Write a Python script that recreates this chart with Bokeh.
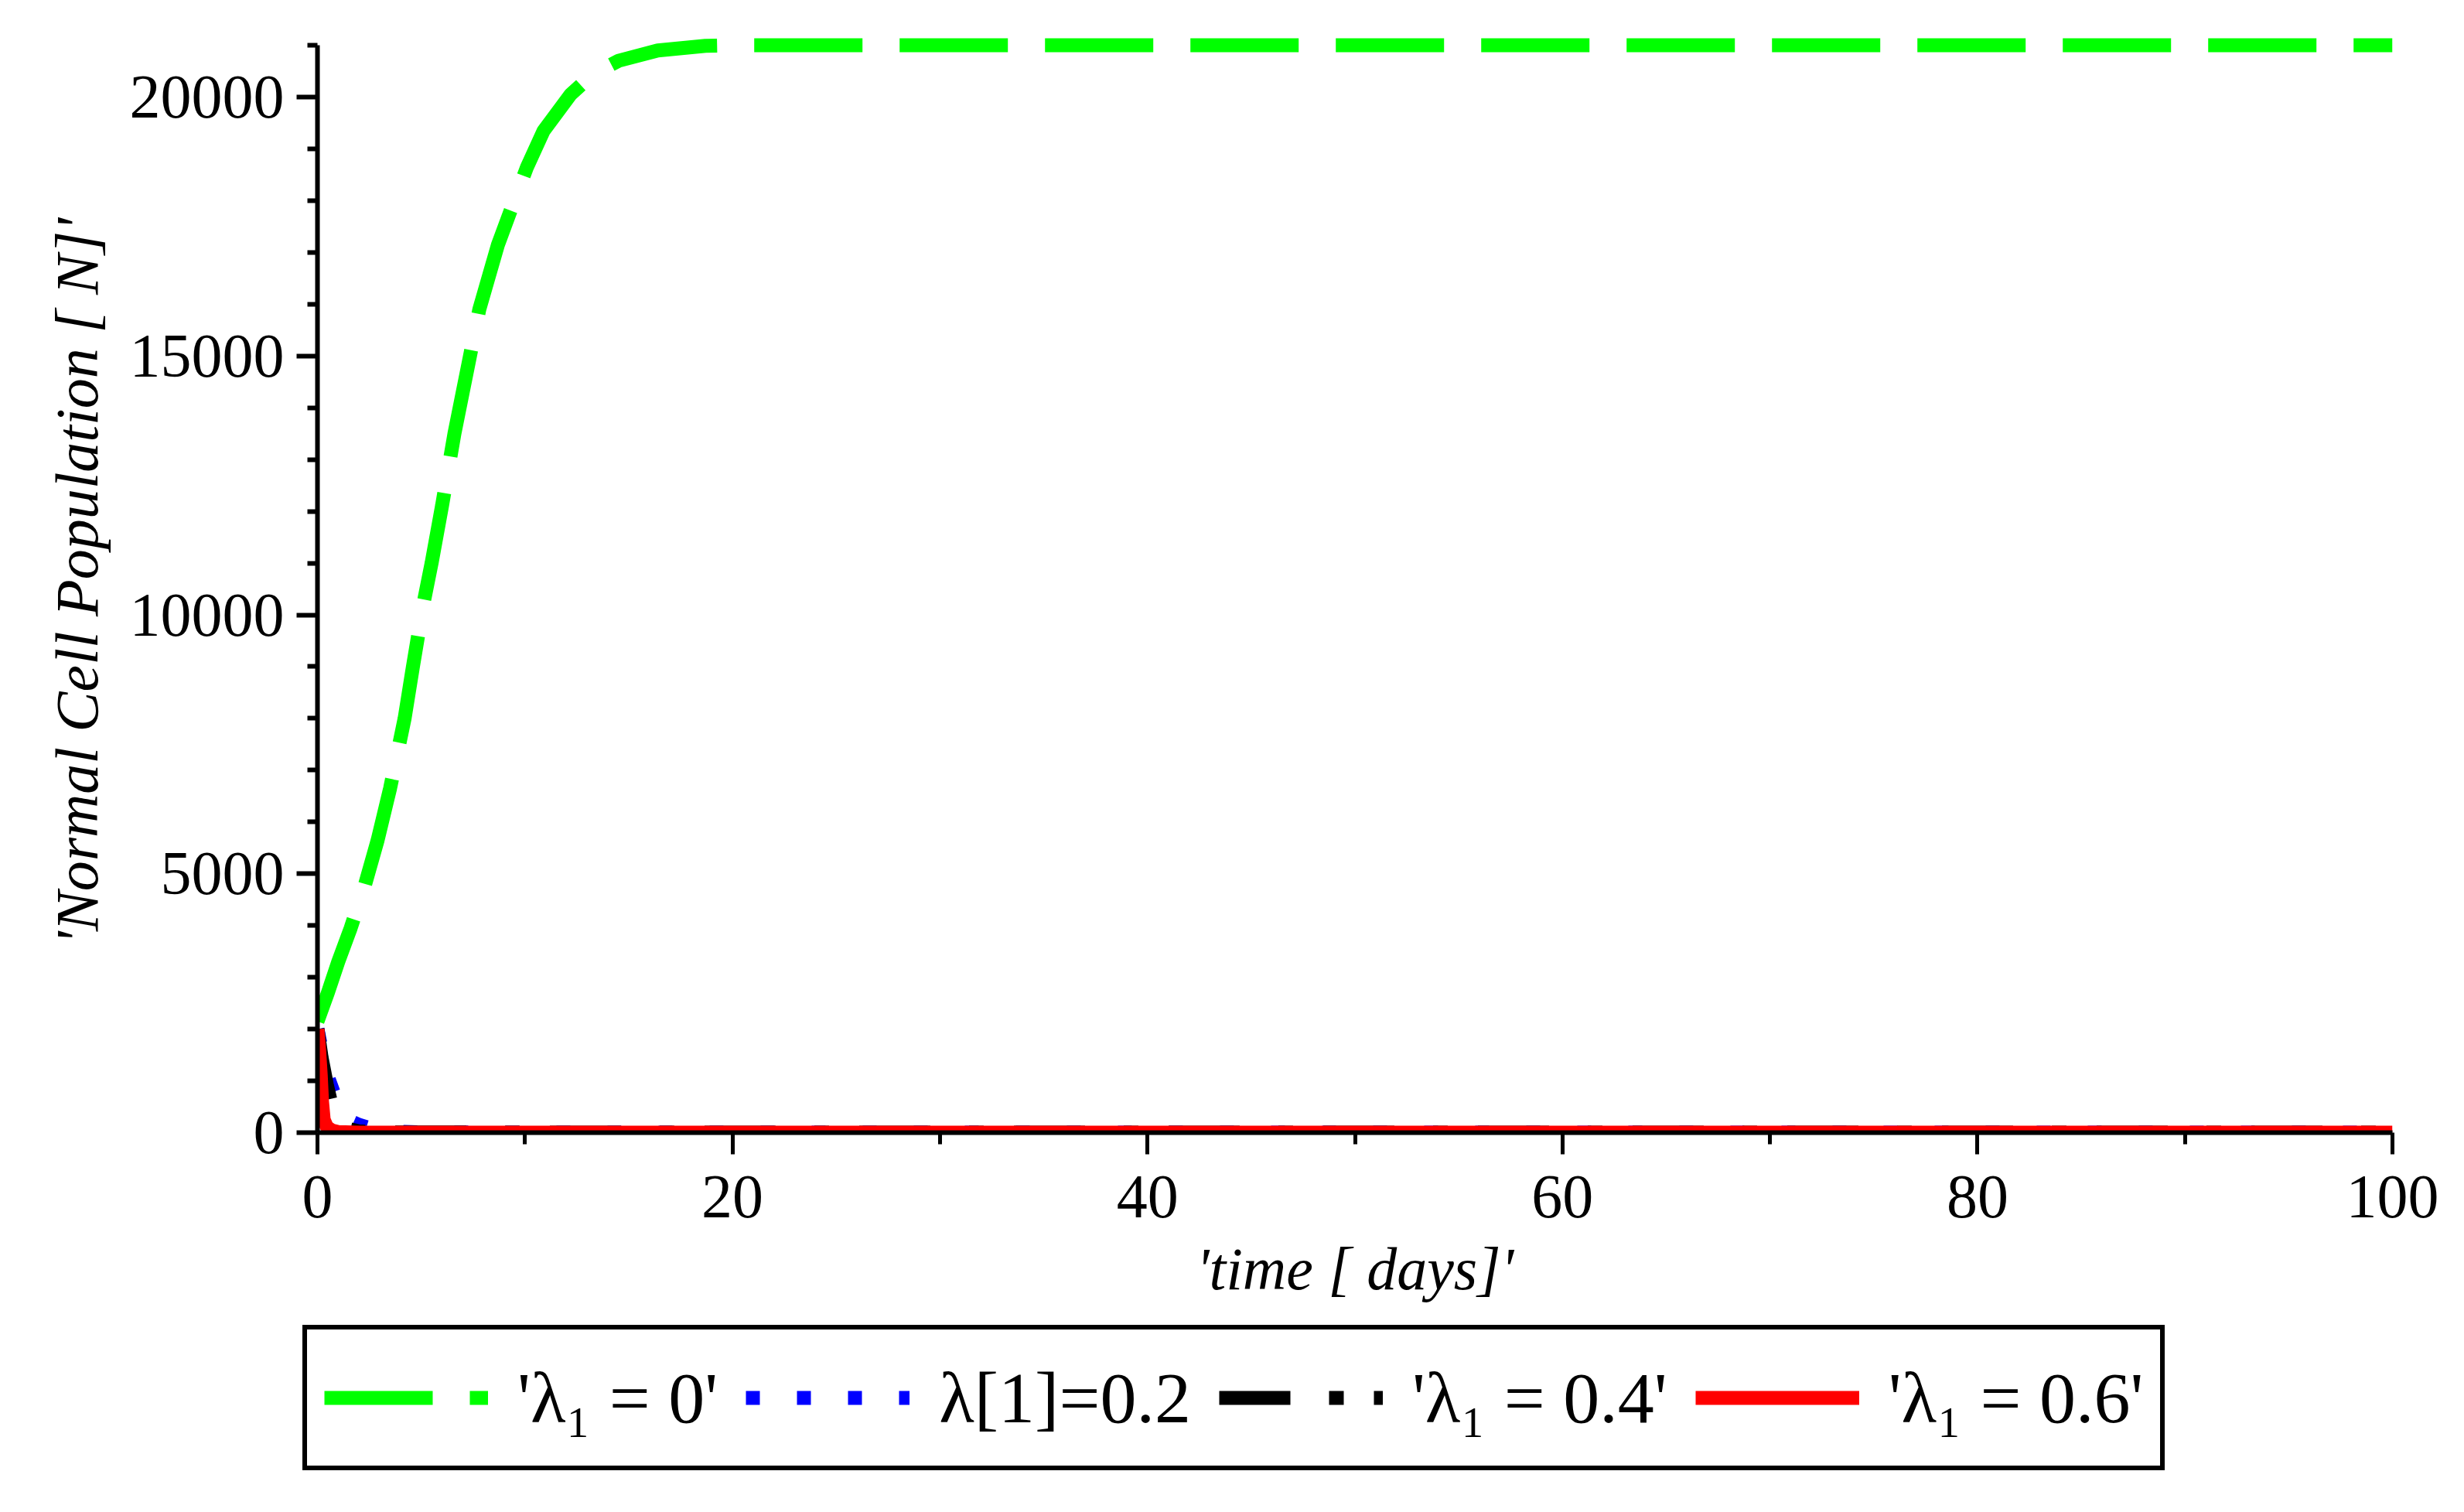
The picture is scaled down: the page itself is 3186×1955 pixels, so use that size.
from bokeh.plotting import figure
from bokeh.models import FixedTicker, Legend, LegendItem, Range1d
from bokeh.layouts import column
from bokeh.embed import file_html
from bokeh.resources import INLINE

# ---- data ----
t_lam0 = [0, 0.5, 1.0, 1.6, 2.3, 2.9, 3.5, 4.2, 4.6, 5.1, 5.5, 6.0, 6.6, 7.3, 7.8,
          8.7, 9.3, 10.1, 10.9, 12.2, 13.3, 14.5, 16.4, 18.7, 20, 40, 60, 80, 100]
n_lam0 = [2150, 2700, 3300, 3950, 4800, 5650, 6650, 8000, 9000, 10200, 11000, 12100,
          13500, 14900, 15900, 17150, 17800, 18650, 19350, 20050, 20450, 20700, 20900,
          20990, 21000, 21000, 21000, 21000, 21000]

t_lam02 = [0, 0.25, 0.56, 0.8, 1.1, 1.6, 2.0, 2.5, 3.0, 4.0, 5.0, 10, 100]
n_lam02 = [2000, 1500, 1015, 750, 520, 220, 150, 90, 55, 15, 5, 0, 0]

t_lam04 = [0, 0.2, 0.45, 0.7, 1.1, 1.5, 2.0, 3.0, 10, 100]
n_lam04 = [2000, 1450, 930, 500, 170, 70, 25, 5, 0, 0]

t_lam06 = [0, 0.08, 0.16, 0.22, 0.3, 0.45, 0.7, 1.0, 2.0, 100]
n_lam06 = [2000, 1600, 1100, 600, 250, 110, 40, 10, 0, 0]

series_labels = ["'λ₁ = 0'", "λ[1]=0.2", "'λ₁ = 0.4'", "'λ₁ = 0.6'"]

x_ticks = [0, 20, 40, 60, 80, 100]
x_tick_labels = ["0", "20", "40", "60", "80", "100"]
x_minor = [10, 30, 50, 70, 90]
y_ticks = [0, 5000, 10000, 15000, 20000]
y_tick_labels = ["0", "5000", "10000", "15000", "20000"]
y_minor = [1000, 2000, 3000, 4000, 6000, 7000, 8000, 9000, 11000, 12000, 13000,
           14000, 16000, 17000, 18000, 19000, 21000]

FONT = "Liberation Serif"
COLORS = ["#00ff00", "#0000ff", "#000000", "#ff0000"]
DASHES = ["140 48", "18 48", "92 50 19 39", "solid"]

series = [(t_lam0, n_lam0), (t_lam02, n_lam02), (t_lam04, n_lam04), (t_lam06, n_lam06)]

# ---- main plot ----
p = figure(width=3178, height=1712, output_backend="svg", toolbar_location=None,
           x_range=Range1d(0, 100), y_range=Range1d(0, 21300),
           min_border_left=410, min_border_right=85, min_border_top=38,
           min_border_bottom=248)
p.frame_align = False
p.outline_line_color = None
p.xgrid.visible = False
p.ygrid.visible = False
p.background_fill_color = "white"
p.border_fill_color = "white"

for (tt, nn), c, d in zip(series, COLORS, DASHES):
    p.line(tt, nn, line_color=c, line_width=18, line_dash=d)

xa = p.xaxis[0]
xa.ticker = FixedTicker(ticks=x_ticks, minor_ticks=x_minor)
xa.major_label_overrides = {v: s for v, s in zip(x_ticks, x_tick_labels)}
xa.bounds = (0, 100)
xa.axis_line_width = 6
xa.major_tick_line_width = 5
xa.minor_tick_line_width = 5
xa.major_tick_out = 28
xa.major_tick_in = 0
xa.minor_tick_out = 15
xa.minor_tick_in = 0
xa.major_label_text_font = FONT
xa.major_label_text_font_size = "80px"
xa.major_label_text_color = "black"
xa.major_label_standoff = 28
xa.axis_label = "'time [ days]'"
xa.axis_label_text_font = FONT
xa.axis_label_text_font_style = "italic"
xa.axis_label_text_font_size = "78px"
xa.axis_label_text_color = "black"
xa.axis_label_standoff = 20

ya = p.yaxis[0]
ya.ticker = FixedTicker(ticks=y_ticks, minor_ticks=y_minor)
ya.major_label_overrides = {v: s for v, s in zip(y_ticks, y_tick_labels)}
ya.bounds = (0, 21000)
ya.axis_line_width = 6
ya.major_tick_line_width = 6
ya.minor_tick_line_width = 6
ya.major_tick_out = 27
ya.major_tick_in = 0
ya.minor_tick_out = 13
ya.minor_tick_in = 0
ya.major_label_text_font = FONT
ya.major_label_text_font_size = "80px"
ya.major_label_text_color = "black"
ya.major_label_standoff = 16
ya.axis_label = "'Normal Cell Population [ N]'"
ya.axis_label_text_font = FONT
ya.axis_label_text_font_style = "italic"
ya.axis_label_text_font_size = "78px"
ya.axis_label_text_color = "black"
ya.axis_label_standoff = 22

# ---- legend strip below the plot (its view range holds none of the data) ----
pl = figure(width=3178, height=226, output_backend="svg", toolbar_location=None,
            x_range=Range1d(-10, -9), y_range=Range1d(0, 1),
            x_axis_location=None, y_axis_location=None,
            min_border_left=0, min_border_right=0, min_border_top=0, min_border_bottom=0)
pl.frame_align = False
pl.outline_line_color = None
pl.xgrid.visible = False
pl.ygrid.visible = False
pl.background_fill_color = "white"
pl.border_fill_color = "white"

leg_renderers = [pl.line(tt, nn, line_color=c, line_width=18, line_dash=d)
                 for (tt, nn), c, d in zip(series, COLORS, DASHES)]

legend = Legend(
    items=[LegendItem(label=lab, renderers=[r]) for lab, r in zip(series_labels, leg_renderers)],
    orientation="horizontal", location=(391, 37),
    glyph_width=212, glyph_height=132, label_standoff=38, spacing=36, padding=22,
    margin=0, border_line_color="black", border_line_width=6, border_line_alpha=1.0,
    background_fill_color="white", background_fill_alpha=1.0,
    label_text_font=FONT, label_text_font_size="94px", label_text_color="black",
)
pl.add_layout(legend)

layout = column(p, pl, spacing=0)
open("out.html", "w").write(file_html(layout, INLINE))
